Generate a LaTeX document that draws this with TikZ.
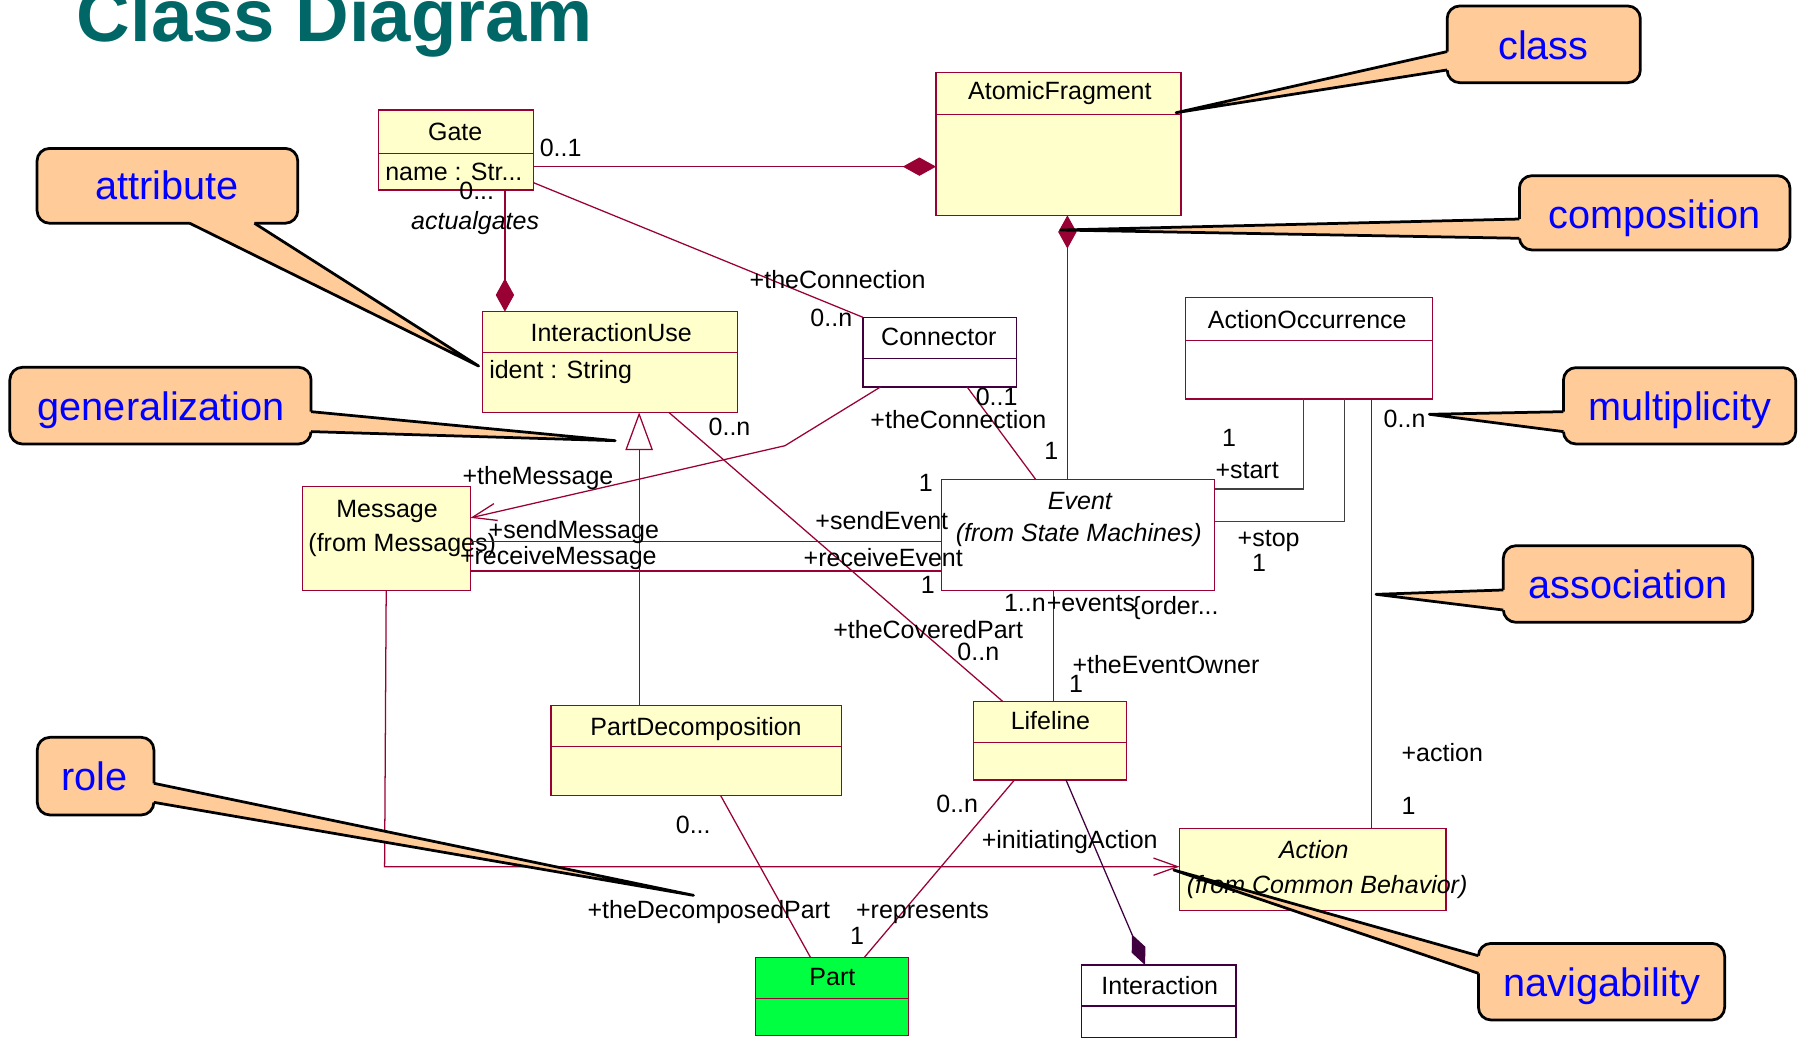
\documentclass[tikz,border=0pt]{standalone}
\usepackage{fontspec}
\setmainfont{Liberation Sans}
\usetikzlibrary{arrows.meta,calc,fit}

\definecolor{umlline}{RGB}{153,0,51}
\definecolor{umlfill}{RGB}{255,255,204}
\definecolor{umlpurple}{RGB}{64,0,64}
\definecolor{partgreen}{RGB}{0,255,64}
\definecolor{calloutfill}{RGB}{255,204,153}
\definecolor{titleteal}{RGB}{0,102,102}
\definecolor{calltext}{RGB}{0,0,255}
\definecolor{elbowgray}{RGB}{64,64,64}

\tikzset{
  cls/.style={draw=umlline, line width=0.6pt, fill=umlfill, inner sep=0pt, outer sep=0pt},
  clsw/.style={cls, fill=white},
  clsp/.style={cls, draw=umlpurple, fill=white},
  clsg/.style={cls, fill=partgreen},
  divider/.style={draw=umlline, line width=0.6pt},
  dividerp/.style={draw=umlpurple, line width=0.6pt},
  lbl/.style={inner sep=0pt, font=\fontsize{10.9}{13}\selectfont, anchor=base west},
  boxtxt/.style={inner sep=0pt, font=\fontsize{10.9}{13}\selectfont, anchor=base},
  assoc/.style={draw=umlline, line width=0.55pt},
  compo/.style={assoc, arrows={Diamond[length=14.5pt,width=8pt]-}},
  compoP/.style={draw=umlpurple, line width=0.55pt, arrows={-Diamond[length=14.5pt,width=6.5pt]}},
  navig/.style={assoc, arrows={-Straight Barb[length=10.5pt,width=7.5pt]}},
  gener/.style={assoc, arrows={-Triangle[length=16.5pt,width=12pt,fill=white]}},
  elbow/.style={draw=elbowgray, line width=0.55pt},
  callbox/.style={draw=black, line width=1.2pt, fill=calloutfill, rounded corners=5.5pt, inner sep=0pt, outer sep=0pt},
  callwedge/.style={draw=black, line width=1.2pt, line join=round},
  calltxt/.style={inner sep=0pt, text=calltext, font=\fontsize{17.3}{20}\selectfont, anchor=base},
}

% speech-bubble annotation: name, box corners, wedge base points, inward shift, tip, text position, text
\newcommand\calloutshape[9]{%
  \node[callbox, fit={#2 #3}] (#1) {};
  \fill[calloutfill] ($#4+#6$) -- #4 -- #7 -- #5 -- ($#5+#6$) -- cycle;
  \draw[callwedge] #4 -- #7 -- #5;
  \node[calltxt] (#1-text) at #8 {#9};
}

\begin{document}
\begin{tikzpicture}[x=0.5pt,y=-0.5pt]
\useasboundingbox (0,0) rectangle (1568,910);

% title
\node[anchor=base west, inner sep=0pt, text=titleteal,
      font=\bfseries\fontsize{32.4}{36}\selectfont] (title) at (66.5,36.3) {Class Diagram};

% ---------- classes ----------
\node[cls,  fit={(330.1,95.9) (465.2,165.7)}]   (gate)  {};
\node[cls,  fit={(816.3,63.4) (1030,187.8)}]    (af)    {};
\node[cls,  fit={(420.9,271.8) (643,359.6)}]    (iu)    {};
\node[clsp, fit={(752.5,276.7) (886.4,337.5)}]  (conn)  {};
\node[clsw, fit={(1033.6,259.6) (1249.4,348)}]  (ao)    {};
\node[clsw, fit={(821.3,418) (1059.2,515)}]     (event) {};
\node[cls,  fit={(263.6,424.4) (410.3,514.8)}]  (msg)   {};
\node[cls,  fit={(480.6,615.4) (734,693.6)}]    (pd)    {};
\node[cls,  fit={(848.8,611.9) (982.2,680.2)}]  (ll)    {};
\node[cls,  fit={(1028.6,722.7) (1260.9,793.9)}] (act)  {};
\node[clsg, fit={(658.8,835.2) (792.2,902.9)}]  (part)  {};
\node[clsp, fit={(943.2,841.6) (1078,904.6)}]   (inter) {};

% compartment lines
\draw[divider]  ($(gate.north west)+(0,37.7)$)  -- ($(gate.north east)+(0,37.7)$);
\draw[divider]  ($(af.north west)+(0,36.3)$)    -- ($(af.north east)+(0,36.3)$);
\draw[divider]  ($(iu.north west)+(0,35.5)$)    -- ($(iu.north east)+(0,35.5)$);
\draw[dividerp] ($(conn.north west)+(0,35.8)$)  -- ($(conn.north east)+(0,35.8)$);
\draw[divider]  ($(ao.north west)+(0,37.5)$)    -- ($(ao.north east)+(0,37.5)$);
\draw[divider]  ($(pd.north west)+(0,35.8)$)    -- ($(pd.north east)+(0,35.8)$);
\draw[divider]  ($(ll.north west)+(0,35.8)$)    -- ($(ll.north east)+(0,35.8)$);
\draw[divider]  ($(part.north west)+(0,35.4)$)  -- ($(part.north east)+(0,35.4)$);
\draw[dividerp] ($(inter.north west)+(0,35.7)$) -- ($(inter.north east)+(0,35.7)$);

% class texts
\node[boxtxt] (tGate) at (397,122.1) {Gate};
\node[lbl]    (tGateAttr) at (335.6,157) {name : Str...};
\node[boxtxt] (tAf) at (924.3,87.2) {AtomicFragment};
\node[boxtxt] (tIu) at (533,298) {InteractionUse};
\node[lbl]    (tIuAttr) at (426.3,330.2) {ident : String};
\node[boxtxt] (tConn) at (818.8,301.7) {Connector};
\node[boxtxt] (tAo) at (1140,286.3) {ActionOccurrence};
\node[boxtxt, font=\fontsize{10.9}{13}\selectfont\itshape] (tEvent) at (941.8,444.2) {Event};
\node[boxtxt, font=\fontsize{10.9}{13}\selectfont\itshape] (tEventFrom) at (940.8,472.4) {(from State Machines)};
\node[boxtxt] (tMsg) at (337.5,451.2) {Message};
\node[lbl]    (tMsgFrom) at (268.6,481.1) {(from Messages)};
\node[boxtxt] (tPd) at (607,641.3) {PartDecomposition};
\node[boxtxt] (tLl) at (916,636) {Lifeline};
\node[boxtxt, font=\fontsize{10.9}{13}\selectfont\itshape] (tAct) at (1145.7,748.5) {Action};
\node[lbl, font=\fontsize{10.9}{13}\selectfont\itshape] (tActFrom) at (1034.6,779) {(from Common Behavior)};
\node[boxtxt] (tPart) at (725.9,859) {Part};
\node[boxtxt] (tInter) at (1011.4,867.7) {Interaction};

% ---------- attachment points ----------
\coordinate (gA) at ($(gate.north east)!0.708!(gate.south east)$);
\coordinate (gB) at ($(gate.south west)!0.816!(gate.south east)$);
\coordinate (gC) at ($(gate.north east)!0.908!(gate.south east)$);
\coordinate (afS) at ($(af.south west)!0.536!(af.south east)$);
\coordinate (cnA) at ($(conn.south west)!0.114!(conn.south east)$);
\coordinate (cnBend) at (684.5,388.7);
\coordinate (msgA) at ($(msg.north east)!0.301!(msg.south east)$);
\coordinate (cnB) at ($(conn.south west)!0.679!(conn.south east)$);
\coordinate (evA) at ($(event.north west)!0.344!(event.north east)$);
\coordinate (msgS) at ($(msg.north east)!0.531!(msg.south east)$);
\coordinate (msgR) at ($(msg.north east)!0.814!(msg.south east)$);
\coordinate (iuA) at ($(iu.south west)!0.731!(iu.south east)$);
\coordinate (llA) at ($(ll.north west)!0.194!(ll.north east)$);
\coordinate (pdA) at ($(pd.north west)!0.303!(pd.north east)$);
\coordinate (evB) at ($(event.south west)!0.41!(event.south east)$);
\coordinate (evStart) at ($(event.north east)!0.088!(event.south east)$);
\coordinate (aoStart) at ($(ao.south west)!0.477!(ao.south east)$);
\coordinate (evStop) at ($(event.north east)!0.380!(event.south east)$);
\coordinate (aoStop) at ($(ao.south west)!0.643!(ao.south east)$);
\coordinate (aoAct) at ($(ao.south west)!0.753!(ao.south east)$);
\coordinate (msgB) at ($(msg.south west)!0.499!(msg.south east)$);
\coordinate (msgBend) at (335.4,755.8);
\coordinate (llB) at ($(ll.south west)!0.269!(ll.south east)$);
\coordinate (partA) at ($(part.north west)!0.71!(part.north east)$);
\coordinate (pdB) at ($(pd.south west)!0.583!(pd.south east)$);
\coordinate (partB) at ($(part.north west)!0.361!(part.north east)$);
\coordinate (llC) at ($(ll.south west)!0.606!(ll.south east)$);
\coordinate (interA) at ($(inter.north west)!0.411!(inter.north east)$);

% ---------- relationships ----------
\draw[compo] (af.west |- gA) -- (gA);
\draw[compo] (iu.north -| gB) -- (gB);
\draw[assoc] (gC) -- (conn.north west);
\draw[compo] (afS) -- (event.north -| afS);
\draw[navig] (cnA) -- (cnBend) -- (msgA);
\draw[assoc] (cnB) -- (evA);
\draw[assoc] (msgS) -- (event.west |- msgS);
\draw[assoc] (msgR) -- (event.west |- msgR);
\draw[assoc] (iuA) -- (llA);
\draw[gener] (pdA) -- (iu.south -| pdA);
\draw[assoc] (evB) -- (ll.north -| evB);
\draw[elbow] (evStart) -| (aoStart);
\draw[elbow] (evStop) -| (aoStop);
\draw[assoc] (aoAct) -- (act.north -| aoAct);
\draw[navig] (msgB) -- (msgBend) -- (act.west |- msgBend);
\draw[assoc] (llB) -- (partA);
\draw[assoc] (pdB) -- (partB);
\draw[compoP] (llC) -- (interA);

% ---------- role names and multiplicities ----------
\node[lbl] (m1)  at (470.3,136.6) {0..1};
\node[lbl] (m2)  at (400.2,174.4) {0...};
\node[lbl, font=\fontsize{10.9}{13}\selectfont\itshape] (r1) at (358.2,200.3) {actualgates};
\node[lbl] (r2)  at (653.4,251.4) {+theConnection};
\node[lbl] (m3)  at (706.4,284.9) {0..n};
\node[lbl] (m4)  at (617.6,380.2) {0..n};
\node[lbl] (m5)  at (850.6,353.8) {0..1};
\node[lbl] (r3)  at (758.7,373.5) {+theConnection};
\node[lbl] (m6)  at (910.4,401) {1};
\node[lbl] (r4)  at (403,422.4) {+theMessage};
\node[lbl] (m7)  at (801,428.8) {1};
\node[lbl] (r5)  at (710.7,461.6) {+sendEvent};
\node[lbl] (r6)  at (425.8,469.5) {+sendMessage};
\node[lbl] (r7)  at (400.8,492.2) {+receiveMessage};
\node[lbl] (r8)  at (700.5,494.2) {+receiveEvent};
\node[lbl] (m8)  at (802.7,517.5) {1};
\node[lbl] (m9)  at (875.2,533.4) {1..n};
\node[lbl] (r9)  at (912.5,533.4) {+events};
\node[lbl] (r10) at (987.2,536) {\{order...};
\node[lbl] (r11) at (726.3,557) {+theCoveredPart};
\node[lbl] (m10) at (834.6,576.2) {0..n};
\node[lbl] (r12) at (934.9,587.2) {+theEventOwner};
\node[lbl] (m11) at (932,603.8) {1};
\node[lbl] (m12) at (1065.4,389.5) {1};
\node[lbl] (r13) at (1059.6,417.7) {+start};
\node[lbl] (r14) at (1079,476.7) {+stop};
\node[lbl] (m13) at (1091.5,498.5) {1};
\node[lbl] (m14) at (1206.3,372.9) {0..n};
\node[lbl] (r15) at (1221.9,664.2) {+action};
\node[lbl] (m15) at (1221.9,709.9) {1};
\node[lbl] (m16) at (589,726.7) {0...};
\node[lbl] (m17) at (816.2,708.2) {0..n};
\node[lbl] (r16) at (855.8,739.8) {+initiatingAction};
\node[lbl] (r17) at (512,800.8) {+theDecomposedPart};
\node[lbl] (r18) at (746.2,800.8) {+represents};
\node[lbl] (m18) at (741,824) {1};

% ---------- annotations ----------
\calloutshape{cClass}{(1262,5.2)}{(1430.5,72.1)}{(1262,45)}{(1262,61)}{(4,0)}{(1025.6,98.3)}{(1346,51.7)}{class}
\calloutshape{cAttr}{(32.3,129.4)}{(259.7,194.7)}{(165.5,194.7)}{(221.9,194.7)}{(0,-4)}{(417.4,319.2)}{(145.4,174.4)}{attribute}
\calloutshape{cComp}{(1325,153.2)}{(1561,218)}{(1325,191)}{(1325,207.8)}{(4,0)}{(925,200.6)}{(1443,199.1)}{composition}
\calloutshape{cGen}{(8.6,320.3)}{(271.3,387.2)}{(271.3,359)}{(271.3,376.4)}{(-4,0)}{(536.5,384.3)}{(140.7,366.3)}{generalization}
\calloutshape{cMult}{(1363.4,320.6)}{(1566,387.2)}{(1363.4,359)}{(1363.4,376.4)}{(4,0)}{(1246.5,361.3)}{(1464.8,366.3)}{multiplicity}
\calloutshape{cAssoc}{(1311,475.9)}{(1528.5,542.7)}{(1311,514.5)}{(1311,532)}{(4,0)}{(1200,518.3)}{(1419.8,521.8)}{association}
\calloutshape{cRole}{(32.5,643)}{(134.2,710.7)}{(134.2,683.1)}{(134.2,699.7)}{(-4,0)}{(604.8,780.8)}{(82.6,689)}{role}
\calloutshape{cNav}{(1289.3,822.7)}{(1504,889.5)}{(1289.3,833.5)}{(1289.3,848.8)}{(4,0)}{(1023.6,758.7)}{(1397,869.2)}{navigability}
\end{tikzpicture}
\end{document}
